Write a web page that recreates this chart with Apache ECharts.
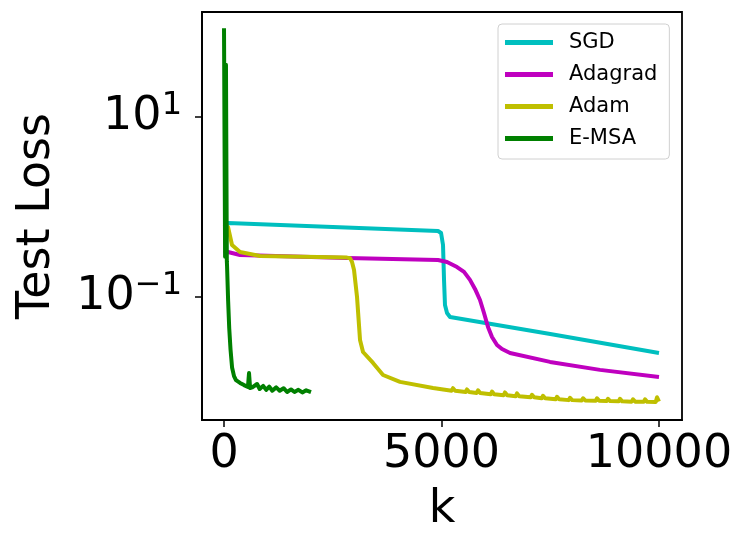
<!DOCTYPE html>
<html>
<head>
<meta charset="utf-8">
<script src="https://cdn.jsdelivr.net/npm/echarts@6/dist/echarts.min.js"></script>
<style>
  html, body { margin: 0; padding: 0; background: #fff; }
  #chart { width: 738px; height: 533px; }
</style>
</head>
<body>
<div id="chart"></div>
<script>
// iteration k and test loss
const sgdK = [0, 92, 2500, 4920, 4990, 5035, 5058, 5080, 5127, 5196, 7500, 10000]
const sgdLoss = [0.66, 0.664, 0.6, 0.541, 0.514, 0.378, 0.155, 0.0815, 0.0664, 0.06, 0.0388, 0.0239]

const adagradK = [0, 92, 368, 2828, 4920, 5127, 5357, 5518, 5655, 5770, 5885, 5977, 6069, 6161, 6276, 6391, 6575, 7495, 8644, 10000]
const adagradLoss = [0.33, 0.316, 0.293, 0.271, 0.258, 0.245, 0.215, 0.19, 0.155, 0.123, 0.0926, 0.0664, 0.0464, 0.036, 0.0293, 0.0264, 0.0239, 0.019, 0.0155, 0.0129]

// Adam: fast drop near k=3000, then a slow tail with small periodic bumps
const adamK = [0, 92, 184, 368, 828, 2828, 2897, 2943, 2989, 3058, 3127, 3196, 3426, 3656, 4046, 4805,
  5235, 5265, 5315, 5557, 5587, 5637, 5810, 5840, 5890, 6131, 6161, 6211, 6430, 6460, 6510,
  6706, 6736, 6786, 7051, 7081, 7131, 7304, 7334, 7384, 7626, 7656, 7706, 7925, 7955, 8005,
  8224, 8254, 8304, 8546, 8576, 8626, 8798, 8828, 8878, 9074, 9104, 9154, 9373, 9403, 9453,
  9649, 9679, 9729, 9925, 9955, 10000]
const adamLoss = [0.65, 0.6, 0.378, 0.316, 0.286, 0.274, 0.27, 0.245, 0.2, 0.1, 0.0333, 0.0245, 0.0185, 0.0136, 0.0114, 0.00975,
  0.0091, 0.0097, 0.0091, 0.0088, 0.0094, 0.0088, 0.0086, 0.0092, 0.0086, 0.0083, 0.0089, 0.0083, 0.0081, 0.0087, 0.0081,
  0.0079, 0.0085, 0.0079, 0.0077, 0.0082, 0.0077, 0.0075, 0.008, 0.0075, 0.0073, 0.0078, 0.0073, 0.00715, 0.0076, 0.00715,
  0.0071, 0.0075, 0.0071, 0.00703, 0.0075, 0.00703, 0.00698, 0.0074, 0.00698, 0.00693, 0.0074, 0.00693, 0.00688, 0.0073, 0.00688,
  0.00684, 0.0073, 0.00684, 0.0068, 0.0077, 0.0069]

const emsaK = [0, 25, 45, 65, 70, 95, 120, 150, 185, 230, 275, 368, 460, 550, 575, 600, 650, 690, 760, 820, 900, 970, 1040, 1110, 1200, 1280, 1370, 1450, 1540, 1620, 1710, 1800, 1890, 2000]
const emsaLoss = [97, 0.28, 38, 0.25, 0.22, 0.09, 0.045, 0.026, 0.0165, 0.0132, 0.0119, 0.0111, 0.0105, 0.01, 0.0143, 0.00975, 0.0099, 0.0095, 0.0108, 0.0095, 0.0103, 0.0093, 0.0101, 0.0091, 0.0099, 0.0091, 0.0097, 0.0088, 0.0094, 0.0088, 0.0093, 0.0087, 0.0092, 0.0088]

const xTicks = [0, 5000, 10000]
const yTicks = [0.1, 10]
const seriesNames = ['SGD', 'Adagrad', 'Adam', 'E-MSA']
const colors = ['#00bfbf', '#bf00bf', '#bfbf00', '#008000']

const zip = (ks, vs) => ks.map((k, i) => [k, vs[i]])
const seriesData = [zip(sgdK, sgdLoss), zip(adagradK, adagradLoss), zip(adamK, adamLoss), zip(emsaK, emsaLoss)]

const font = 'DejaVu Sans'
const chart = echarts.init(document.getElementById('chart'))

const option = {
  animation: false,
  textStyle: { fontFamily: font },
  grid: {
    left: 202, right: 56, top: 12, bottom: 113,
    outerBoundsMode: 'none',
    containLabel: false,
    show: true, borderColor: '#000', borderWidth: 1.8
  },
  legend: {
    orient: 'vertical',
    left: 498, top: 24,
    padding: [8, 12, 10, 7],
    itemGap: 11,
    itemWidth: 48,
    itemHeight: 5,
    icon: 'rect',
    borderColor: '#d0d0d0',
    borderWidth: 1,
    borderRadius: 4,
    backgroundColor: '#fff',
    data: seriesNames,
    textStyle: { fontFamily: font, fontSize: 21, color: '#000', padding: [0, 0, 0, 11] }
  },
  xAxis: {
    type: 'value',
    min: -506, max: 10529,
    name: 'k',
    nameLocation: 'middle',
    nameGap: 67,
    nameTextStyle: { fontFamily: font, fontSize: 46, color: '#000' },
    axisLine: { onZero: false, lineStyle: { color: '#000', width: 1.8 } },
    axisTick: { show: true, length: 7, lineStyle: { color: '#000', width: 1.5 }, customValues: xTicks },
    axisLabel: {
      fontFamily: font, fontSize: 46, color: '#000', margin: 12,
      customValues: xTicks,
      formatter: (v) => String(v)
    },
    splitLine: { show: false }
  },
  yAxis: {
    type: 'log',
    logBase: 10,
    min: 0.0043, max: 146.8,
    name: 'Test Loss',
    nameLocation: 'middle',
    nameGap: 142,
    nameTextStyle: { fontFamily: font, fontSize: 46, color: '#000' },
    axisLine: { show: true, onZero: false, lineStyle: { color: '#000', width: 1.8 } },
    axisTick: { show: true, length: 7, lineStyle: { color: '#000', width: 1.5 }, customValues: yTicks },
    axisLabel: {
      margin: 20,
      customValues: yTicks,
      formatter: (v) => (v >= 1 ? '{b|10}{s|1}' : '{b|10}{s|\u22121}'),
      rich: {
        b: { fontFamily: font, fontSize: 46, color: '#000' },
        s: { fontFamily: font, fontSize: 32, color: '#000', padding: [0, 0, 22, 0] }
      }
    },
    splitLine: { show: false }
  },
  series: seriesNames.map((name, i) => ({
    name,
    type: 'line',
    data: seriesData[i],
    showSymbol: false,
    color: colors[i],
    lineStyle: { width: 4, color: colors[i], join: 'round' }
  }))
}

chart.setOption(option)
</script>
</body>
</html>
